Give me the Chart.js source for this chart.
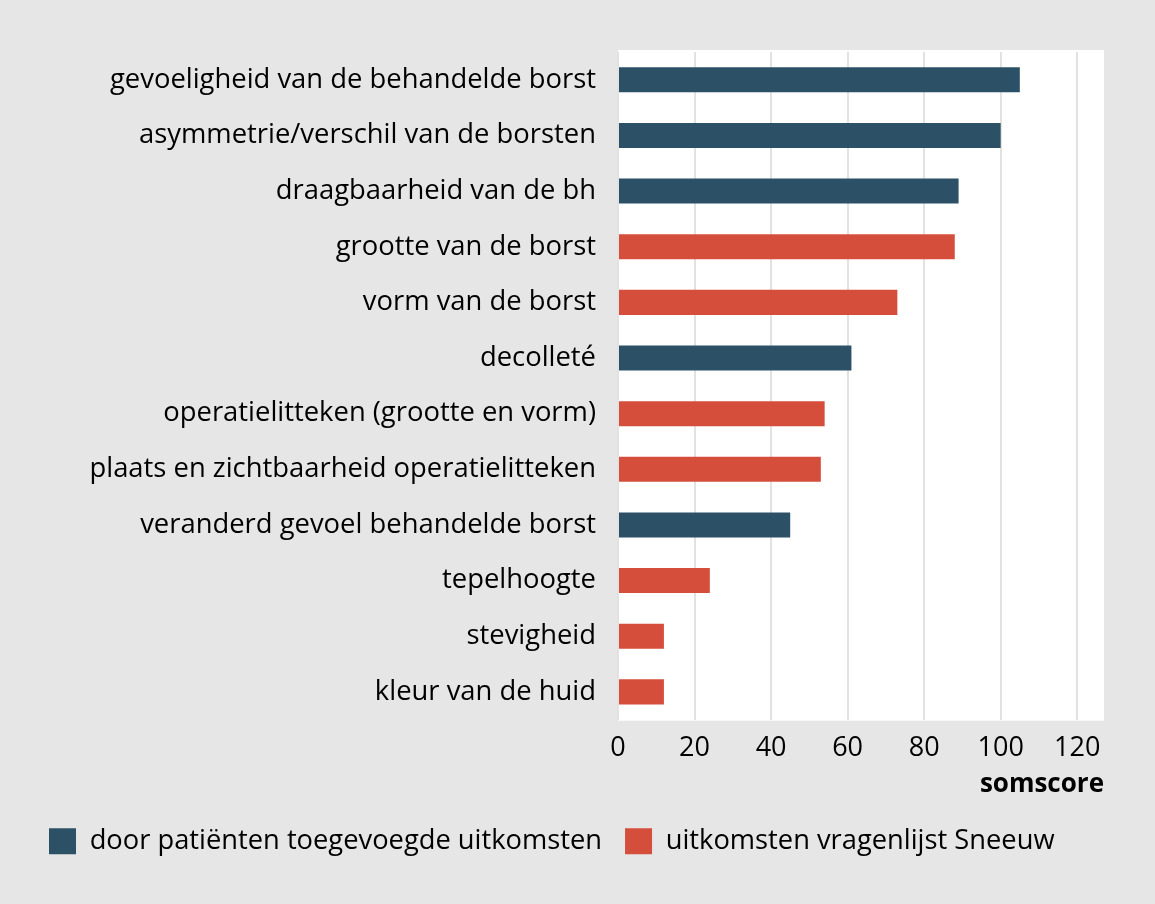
<!DOCTYPE html>
<html>
<head>
<meta charset="utf-8">
<script src="https://cdn.jsdelivr.net/npm/chart.js@4.4.1/dist/chart.umd.min.js"></script>
<style>
  html, body { margin: 0; padding: 0; background: #e6e6e6; }
  canvas { display: block; }
</style>
</head>
<body>
<canvas id="chart" width="1155" height="904"></canvas>
<script>
const categories = [
    'gevoeligheid van de behandelde borst',
    'asymmetrie/verschil van de borsten',
    'draagbaarheid van de bh',
    'grootte van de borst',
    'vorm van de borst',
    'decolleté',
    'operatielitteken (grootte en vorm)',
    'plaats en zichtbaarheid operatielitteken',
    'veranderd gevoel behandelde borst',
    'tepelhoogte',
    'stevigheid',
    'kleur van de huid'
];
// somscore per item; null where the item belongs to the other group
const patientValues = [105, 100, 89, null, null, 61, null, null, 45, null, null, null];
const sneeuwValues = [null, null, null, 88, 73, null, 54, 53, null, 24, 12, 12];
const seriesNames = ['door patiënten toegevoegde uitkomsten', 'uitkomsten vragenlijst Sneeuw'];
const xTicks = [0, 20, 40, 60, 80, 100, 120];

const FONT = '"Open Sans", sans-serif';

// white plot panel, a touch taller than the chart area like the original
const plotBackground = {
    id: 'plotBackground',
    beforeDraw(chart) {
        const { ctx, chartArea } = chart;
        ctx.save();
        ctx.fillStyle = '#ffffff';
        ctx.fillRect(chartArea.left, chartArea.top - 2, chartArea.right - chartArea.left, chartArea.bottom - chartArea.top + 3);
        ctx.restore();
    }
};

new Chart(document.getElementById('chart').getContext('2d'), {
    type: 'bar',
    data: {
        labels: categories,
        datasets: [{
            label: seriesNames[0],
            data: patientValues,
            backgroundColor: '#2c5066'
        }, {
            label: seriesNames[1],
            data: sneeuwValues,
            backgroundColor: '#d44e3b'
        }]
    },
    options: {
        indexAxis: 'y',
        responsive: false,
        animation: false,
        devicePixelRatio: 1,
        barPercentage: 0.45,
        categoryPercentage: 1,
        layout: {
            padding: { left: 26, top: 52, right: 51, bottom: 39 }
        },
        scales: {
            x: {
                stacked: true,
                min: 0,
                max: 127,
                afterBuildTicks(scale) {
                    scale.ticks = xTicks.map(v => ({ value: v }));
                },
                afterFit(scale) { scale.height = 85; },
                grid: { color: '#e2e2e2', lineWidth: 2, drawTicks: false },
                border: { display: false },
                ticks: {
                    color: '#000',
                    padding: 12,
                    maxRotation: 0,
                    font: { family: FONT, size: 27 }
                },
                title: {
                    display: true,
                    text: 'somscore',
                    align: 'end',
                    color: '#000',
                    padding: { top: 0, bottom: 5 },
                    font: { family: FONT, size: 26, weight: 'bold' }
                }
            },
            y: {
                stacked: true,
                afterFit(scale) { scale.width = 592; },
                grid: { display: false },
                border: { display: false },
                ticks: {
                    color: '#000',
                    padding: 14,
                    font: { family: FONT, size: 27.4 }
                }
            }
        },
        plugins: {
            legend: {
                position: 'bottom',
                align: 'start',
                labels: {
                    boxWidth: 27,
                    boxHeight: 26,
                    padding: 23,
                    color: '#000',
                    font: { family: FONT, size: 27.3 }
                }
            },
            tooltip: { enabled: false }
        }
    },
    plugins: [plotBackground]
});
</script>
</body>
</html>
